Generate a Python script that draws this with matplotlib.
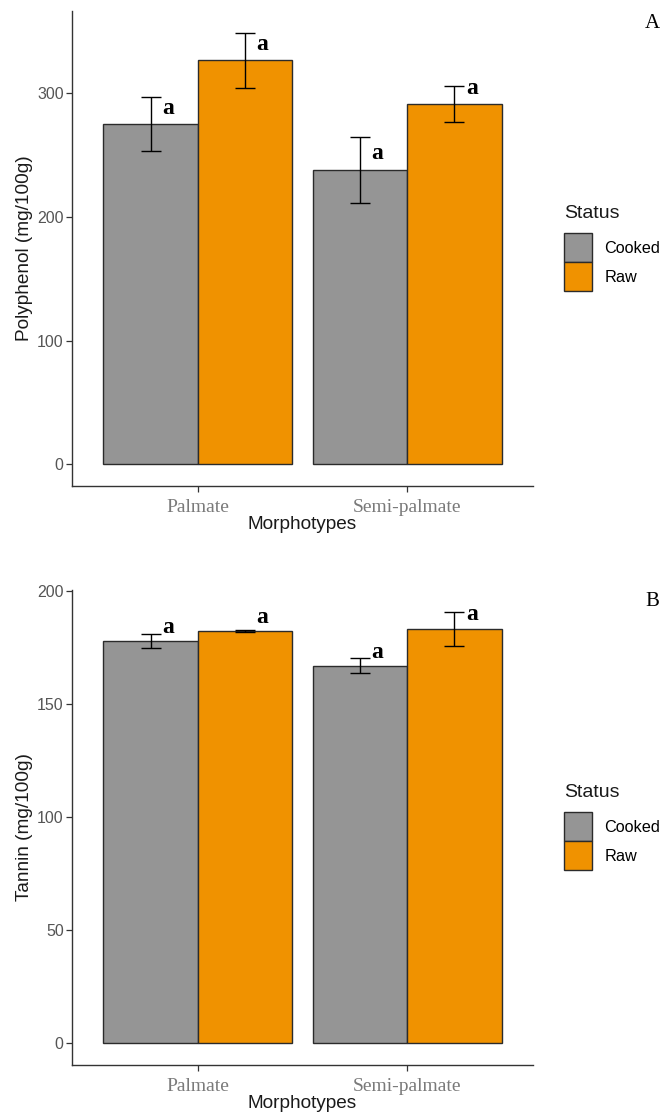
import matplotlib
matplotlib.use("Agg")
import matplotlib.pyplot as plt
import numpy as np

# Data
morphotypes = ['Palmate', 'Semi-palmate']
status = ['Cooked', 'Raw']

polyphenol_cooked = [275, 238]
polyphenol_cooked_err = [22, 27]
polyphenol_raw = [326.5, 291]
polyphenol_raw_err = [22.5, 14.5]
polyphenol_letters = [['a', 'a'], ['a', 'a']]

tannin_cooked = [178, 167]
tannin_cooked_err = [3.0, 3.2]
tannin_raw = [182.2, 183.4]
tannin_raw_err = [0.4, 7.5]
tannin_letters = [['a', 'a'], ['a', 'a']]

colors = ['#959595', '#F09200']

plt.rcParams['font.family'] = ['Liberation Sans', 'DejaVu Sans']

fig = plt.figure(figsize=(6.71, 11.16), dpi=100)
W, H = 671, 1116


def panel(top_px, means, errs, letters, ylabel, yticks, tag, letter_off):
    bottom_px = top_px + 475
    ax = fig.add_axes([72 / W, 1 - bottom_px / H, 461 / W, 475 / H])
    x = np.arange(len(morphotypes))
    width = 0.45
    handles = []
    for i, (m, e) in enumerate(zip(means, errs)):
        xs = x + (i - 0.5) * width
        b = ax.bar(xs, m, width, color=colors[i], edgecolor='#2b2b2b',
                   linewidth=1.0, label=status[i], zorder=2)
        handles.append(b)
        ax.errorbar(xs, m, yerr=e, fmt='none', ecolor='black',
                    elinewidth=1.0, capsize=7.5, capthick=1.0, zorder=3)
        for xi, mi, lab in zip(xs, m, letters[i]):
            ax.text(xi + 0.055, mi + letter_off, lab, ha='left', va='center',
                    family='Liberation Serif', fontweight='bold', fontsize=17,
                    color='black')

    # ggplot-like expansion
    top = max(np.max(np.add(m, e)) for m, e in zip(means, errs))
    ax.set_ylim(-0.05 * top, 1.05 * top)
    ax.set_xlim(-0.6, len(morphotypes) - 1 + 0.6)

    ax.set_xticks(x)
    ax.set_xticklabels(morphotypes, family='Liberation Serif', fontsize=14,
                       color='#7a7a7a')
    ax.set_yticks(yticks)
    ax.tick_params(axis='y', labelsize=11.5, labelcolor='#555555',
                   length=4, width=0.9, color='#333333', pad=2)
    ax.tick_params(axis='x', length=4, width=0.9, color='#333333', pad=5.5)
    for s in ['top', 'right']:
        ax.spines[s].set_visible(False)
    for s in ['left', 'bottom']:
        ax.spines[s].set_linewidth(1.0)
        ax.spines[s].set_color('#333333')

    ax.set_xlabel('Morphotypes', fontsize=13.7, color='#1a1a1a', labelpad=0)
    ax.set_ylabel(ylabel, fontsize=13.7, color='#1a1a1a', labelpad=3)

    leg = ax.legend(handles=handles, title='Status', loc='upper left',
                    bbox_to_anchor=(564 / W, 1 - (top_px + 194) / H),
                    bbox_transform=fig.transFigure, frameon=False,
                    fontsize=11.7, title_fontsize=14, handlelength=1.72,
                    handleheight=2.37, labelspacing=0.0, handletextpad=0.75,
                    borderpad=0, borderaxespad=0, alignment='left')
    leg.get_title().set_color('#1a1a1a')
    leg._legend_box.sep = 8

    fig.text(652 / W, 1 - (top_px + 12) / H, tag, family='Liberation Serif',
             fontsize=15, ha='center', va='center')
    return ax


panel(11, [polyphenol_cooked, polyphenol_raw],
      [polyphenol_cooked_err, polyphenol_raw_err], polyphenol_letters,
      'Polyphenol (mg/100g)', [0, 100, 200, 300], 'A', 13)
panel(590, [tannin_cooked, tannin_raw],
      [tannin_cooked_err, tannin_raw_err], tannin_letters,
      'Tannin (mg/100g)', [0, 50, 100, 150, 200], 'B', 6)

fig.savefig('out.png', dpi=100)
